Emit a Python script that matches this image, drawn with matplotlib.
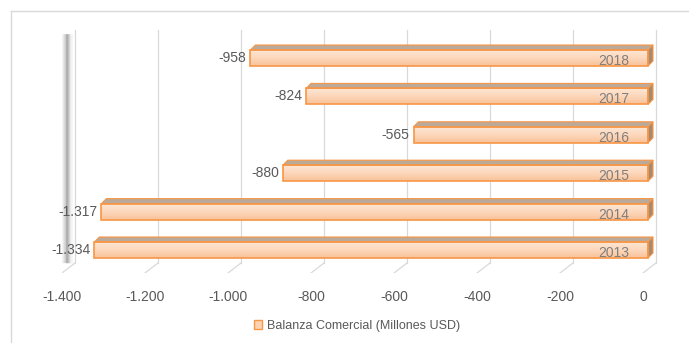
import numpy as np
import matplotlib
matplotlib.use('Agg')
import matplotlib.pyplot as plt
from matplotlib.patches import Polygon, Patch
from matplotlib.colors import LinearSegmentedColormap
from matplotlib.lines import Line2D

# data
years = ['2013', '2014', '2015', '2016', '2017', '2018']
values = [-1334, -1317, -880, -565, -824, -958]
ticks = [-1400, -1200, -1000, -800, -600, -400, -200, 0]
tick_labels = ['-1.400', '-1.200', '-1.000', '-800', '-600', '-400', '-200', '0']
legend_label = 'Balanza Comercial (Millones USD)'

plt.rcParams['font.family'] = ['Liberation Sans', 'DejaVu Sans']

W, H = 689, 343
fig = plt.figure(figsize=(W / 100, H / 100), dpi=100)

# front floor: -1400 at x=62, 0 at x=643; floor at y=273, top at y=40
x0, x1 = 62, 643
y_bot, y_top = 273, 40
extra = 25  # room on the right for the bar ends
ax = fig.add_axes([x0 / W, (H - y_bot) / H, (x1 + extra - x0) / W, (y_bot - y_top) / H])
sx = (x1 - x0) / 1400.0
xlim = (-1400, extra / sx)
ylim = (-0.599, 5.469)
sy = (y_bot - y_top) / (ylim[1] - ylim[0])

def px(n):
    return n / sx

def py(n):
    return n / sy

grid_col = '#d9d9d9'
txt_col = '#595959'

# back wall gridlines with slanted floor segments
gdx, gdy = px(13), py(10)
for t in ticks:
    ax.add_line(Line2D([t, t + gdx], [ylim[0], ylim[0] + gdy], color=grid_col, lw=0.9))
    ax.add_line(Line2D([t + gdx, t + gdx], [ylim[0] + gdy, ylim[1] + gdy],
                       color=grid_col, lw=0.9, clip_on=False))

# blurry depth wall on the left
wx = ticks[0] + px(5)
for lw, a in [(8, 0.05), (6, 0.08), (4, 0.12), (2.5, 0.15), (1.2, 0.18)]:
    ax.add_line(Line2D([wx, wx], [ylim[0] + py(10), ylim[1] + py(6)],
                       color='#505050', lw=lw, alpha=a, clip_on=False,
                       solid_capstyle='butt'))

# bars
ox = px(5)
bh = py(16)
ddx, ddy = px(5), py(5)
edge = '#f79646'
grad_cmap = LinearSegmentedColormap.from_list('peach', ['#f9c299', '#fcd7bb', '#fde6d4'])
grad = np.linspace(0, 1, 64).reshape(-1, 1)

for i, (yr, v) in enumerate(zip(years, values)):
    yb, yt = i - bh / 2, i + bh / 2
    left, right = v + ox, 0 + ox
    bars = ax.barh(i, right - left, left=left, height=bh, facecolor='none',
                   edgecolor=edge, linewidth=1.2, zorder=5)
    rect = bars[0]
    im = ax.imshow(grad, extent=[left, right, yb, yt], origin='lower',
                   aspect='auto', cmap=grad_cmap, zorder=4)
    im.set_clip_path(rect)
    # top face
    ax.add_patch(Polygon([(left, yt), (left + ddx, yt + ddy), (right + ddx, yt + ddy), (right, yt)],
                         closed=True, facecolor='#bba999', edgecolor=edge, lw=0.8, zorder=4))
    # side face
    ax.add_patch(Polygon([(right, yb), (right, yt), (right + ddx, yt + ddy), (right + ddx, yb + ddy)],
                         closed=True, facecolor='#a8896e', edgecolor=edge, lw=0.8, zorder=4))
    # value label
    ax.text(left - px(4), i, f'{v:,}'.replace(',', '.'), ha='right', va='center',
            fontsize=10, color=txt_col, zorder=6)
    # year label inside the bar
    ax.text(right - px(19), i - py(3), yr, ha='right', va='center',
            fontsize=10, color='#7f7f7f', zorder=6)

ax.set_xlim(*xlim)
ax.set_ylim(*ylim)
ax.set_xticks(ticks)
ax.set_xticklabels(tick_labels, fontsize=10, color=txt_col)
ax.tick_params(axis='x', length=0, pad=12)
ax.set_yticks([])
for s in ax.spines.values():
    s.set_visible(False)
ax.patch.set_visible(False)

# legend
handle = Patch(facecolor='#fcd3b3', edgecolor=edge, linewidth=1)
fig.legend([handle], [legend_label], loc='center', bbox_to_anchor=(357 / W, (H - 326) / H),
           frameon=False, fontsize=9, handlelength=0.7, handleheight=0.7,
           handletextpad=0.4, labelcolor=txt_col)

# chart area border
fig.add_artist(Line2D([11 / W, 1], [(H - 11) / H] * 2, color=grid_col, lw=1))
fig.add_artist(Line2D([11 / W] * 2, [0, (H - 11) / H], color=grid_col, lw=1))

fig.savefig('out.png', dpi=100)
